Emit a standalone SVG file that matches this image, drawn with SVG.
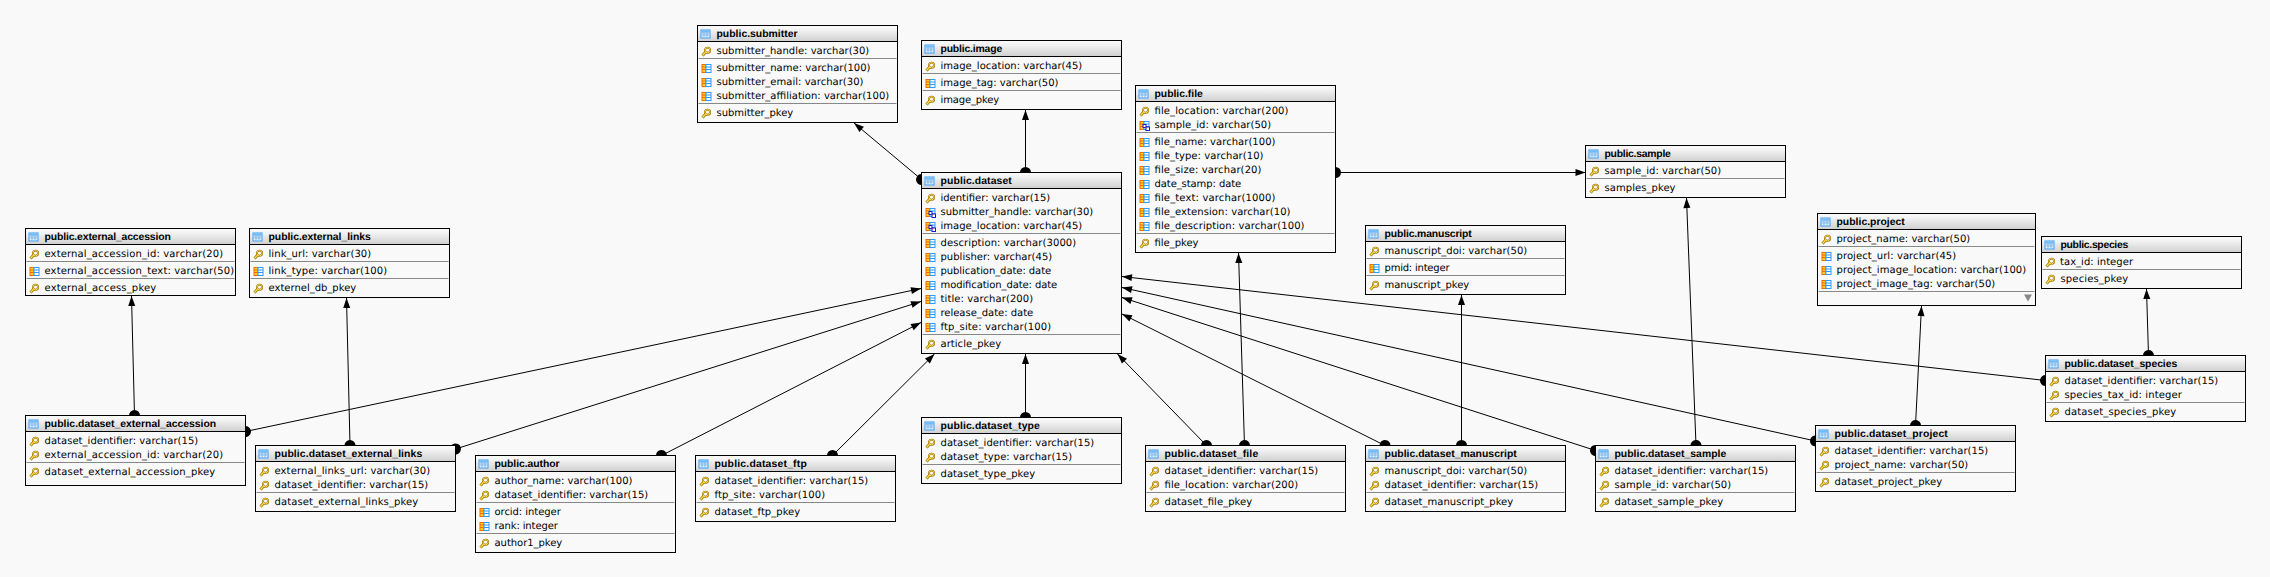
<svg xmlns="http://www.w3.org/2000/svg" width="2270" height="577" viewBox="0 0 2270 577">
<style>
text{font-family:"DejaVu Sans","Liberation Sans",sans-serif;font-size:10px;fill:#000;text-rendering:geometricPrecision}
text.t{font-family:"Liberation Sans","DejaVu Sans",sans-serif;font-weight:700;font-size:10.4px}
.b{fill:#f9f9f9;stroke:#000;stroke-width:1}
.h{fill:url(#hd)}
.hl{stroke:#000;stroke-width:1}
.d{stroke:#888;stroke-width:1}
.c line{stroke:#000;stroke-width:1;fill:none;marker-start:url(#arr);marker-end:url(#dot)}
</style>
<defs>
<linearGradient id="hd" x1="0" y1="0" x2="0" y2="1"><stop offset="0" stop-color="#fbfbfb"/><stop offset="0.3" stop-color="#f0f0f0"/><stop offset="1" stop-color="#cfcfcf"/></linearGradient>
<marker id="arr" markerUnits="userSpaceOnUse" markerWidth="12" markerHeight="10" refX="10.5" refY="5" orient="auto-start-reverse" viewBox="0 0 12 10"><path d="M0.5,1.5 L10.5,5 L0.5,8.5Z" fill="#000"/></marker>
<marker id="dot" markerUnits="userSpaceOnUse" markerWidth="12" markerHeight="12" refX="6" refY="6" orient="auto" viewBox="0 0 12 12"><circle cx="6" cy="6" r="5.5" fill="#000"/></marker>
<g id="ti"><rect x="0.5" y="0.5" width="9" height="8" fill="#e8f3ff" stroke="#3a9cf5"/><rect x="1" y="1" width="8" height="2" fill="#6fbaf8"/><path d="M1,3.5H9M1,5.5H9M3.5,3V8M6.5,3V8" stroke="#7fb6e6" stroke-width="1" fill="none"/></g>
<g id="k"><path d="M4.2,5 L1,8.6" stroke="#8a6a00" stroke-width="2.8" fill="none"/><circle cx="6" cy="3.2" r="2.6" fill="#f9f9f9" stroke="#8a6a00" stroke-width="1.9"/><path d="M4.2,5 L1,8.6" stroke="#ffd83a" stroke-width="1.5" fill="none"/><circle cx="6" cy="3.2" r="2.6" fill="none" stroke="#ffd83a" stroke-width="1"/></g>
<g id="f"><rect x="0.5" y="0.5" width="4" height="8" fill="#ffd21f" stroke="#f56a00"/><path d="M0.5,3H4.5M0.5,5.5H4.5" stroke="#f56a00"/><rect x="4.5" y="0.5" width="5" height="8" fill="#fff" stroke="#2a9bff"/><path d="M4.5,3H9.5M4.5,5.5H9.5" stroke="#2a9bff"/></g>
<g id="x"><use href="#f"/><rect x="3.5" y="3.5" width="3" height="3" fill="#fff" stroke="#1a1acc"/><rect x="6.5" y="6" width="3.5" height="3.5" fill="#fff" stroke="#1a1acc"/><path d="M5.5,6.5L7,7" stroke="#d00"/></g>
</defs>
<rect width="2270" height="577" fill="#f9f9f9"/>
<g id="connectors" class="c">
<line x1="854" y1="123" x2="921.5" y2="179.5"/>
<line x1="1025.5" y1="110" x2="1025.5" y2="172.5"/>
<line x1="1238.5" y1="253" x2="1244.5" y2="445.5"/>
<line x1="1585.5" y1="172.5" x2="1335.5" y2="172.5"/>
<line x1="1461.5" y1="295" x2="1461.5" y2="445.5"/>
<line x1="1686.5" y1="198" x2="1696" y2="445.5"/>
<line x1="1921.5" y1="306" x2="1915.5" y2="425.5"/>
<line x1="2146.5" y1="289" x2="2148.5" y2="355.5"/>
<line x1="1122" y1="276.5" x2="2045.5" y2="380.5"/>
<line x1="1122" y1="287.5" x2="1815.5" y2="441"/>
<line x1="1122" y1="297.5" x2="1595.5" y2="450.5"/>
<line x1="1122" y1="314" x2="1385" y2="445.5"/>
<line x1="1117.5" y1="354" x2="1206.5" y2="445.5"/>
<line x1="921" y1="288.5" x2="245.5" y2="431.5"/>
<line x1="921" y1="301.5" x2="455.5" y2="449"/>
<line x1="921" y1="322.5" x2="661.5" y2="455.5"/>
<line x1="934.5" y1="354" x2="832.5" y2="455.5"/>
<line x1="1025.5" y1="354" x2="1025.5" y2="417.5"/>
<line x1="131.5" y1="296" x2="134.5" y2="415.5"/>
<line x1="346.5" y1="298" x2="350" y2="445.5"/>
</g>
<g id="public.submitter" transform="translate(697.5,25.5)"><rect class="b" width="200" height="97"/><rect class="h" x="0.5" y="0.5" width="199" height="15.5"/><path class="hl" d="M0,16H200"/><use href="#ti" x="3" y="4"/><text class="t" x="19" y="11.5" textLength="81">public.submitter</text>
<use href="#k" x="4" y="21.5"/><text x="19" y="28.5" textLength="152.7">submitter_handle: varchar(30)</text><path class="d" d="M1,33H199"/>
<use href="#f" x="4" y="38.5"/><text x="19" y="45.5" textLength="154">submitter_name: varchar(100)</text><use href="#f" x="4" y="52.5"/><text x="19" y="59.5" textLength="147">submitter_email: varchar(30)</text><use href="#f" x="4" y="66.5"/><text x="19" y="73.5" textLength="172.7">submitter_affiliation: varchar(100)</text><path class="d" d="M1,78H199"/>
<use href="#k" x="4" y="83.5"/><text x="19" y="90.5" textLength="76.7">submitter_pkey</text></g>
<g id="public.image" transform="translate(921.5,40.5)"><rect class="b" width="200" height="69"/><rect class="h" x="0.5" y="0.5" width="199" height="15.5"/><path class="hl" d="M0,16H200"/><use href="#ti" x="3" y="4"/><text class="t" x="19" y="11.5" textLength="61.7">public.image</text>
<use href="#k" x="4" y="21.5"/><text x="19" y="28.5" textLength="141.7">image_location: varchar(45)</text><path class="d" d="M1,33H199"/>
<use href="#f" x="4" y="38.5"/><text x="19" y="45.5" textLength="118">image_tag: varchar(50)</text><path class="d" d="M1,50H199"/>
<use href="#k" x="4" y="55.5"/><text x="19" y="62.5" textLength="58.7">image_pkey</text></g>
<g id="public.dataset" transform="translate(921.5,172.5)"><rect class="b" width="200" height="181"/><rect class="h" x="0.5" y="0.5" width="199" height="15.5"/><path class="hl" d="M0,16H200"/><use href="#ti" x="3" y="4"/><text class="t" x="19" y="11.5" textLength="71.3">public.dataset</text>
<use href="#k" x="4" y="21.5"/><text x="19" y="28.5" textLength="109.7">identifier: varchar(15)</text><use href="#x" x="4" y="35.5"/><text x="19" y="42.5" textLength="152.7">submitter_handle: varchar(30)</text><use href="#x" x="4" y="49.5"/><text x="19" y="56.5" textLength="141.7">image_location: varchar(45)</text><path class="d" d="M1,61H199"/>
<use href="#f" x="4" y="66.5"/><text x="19" y="73.5" textLength="135.7">description: varchar(3000)</text><use href="#f" x="4" y="80.5"/><text x="19" y="87.5" textLength="111.7">publisher: varchar(45)</text><use href="#f" x="4" y="94.5"/><text x="19" y="101.5" textLength="110.7">publication_date: date</text><use href="#f" x="4" y="108.5"/><text x="19" y="115.5" textLength="116.7">modification_date: date</text><use href="#f" x="4" y="122.5"/><text x="19" y="129.5" textLength="92.7">title: varchar(200)</text><use href="#f" x="4" y="136.5"/><text x="19" y="143.5" textLength="92.7">release_date: date</text><use href="#f" x="4" y="150.5"/><text x="19" y="157.5" textLength="110.7">ftp_site: varchar(100)</text><path class="d" d="M1,162H199"/>
<use href="#k" x="4" y="167.5"/><text x="19" y="174.5" textLength="60.7">article_pkey</text></g>
<g id="public.file" transform="translate(1135.5,85.5)"><rect class="b" width="200" height="167"/><rect class="h" x="0.5" y="0.5" width="199" height="15.5"/><path class="hl" d="M0,16H200"/><use href="#ti" x="3" y="4"/><text class="t" x="19" y="11.5" textLength="48.3">public.file</text>
<use href="#k" x="4" y="21.5"/><text x="19" y="28.5" textLength="134">file_location: varchar(200)</text><use href="#x" x="4" y="35.5"/><text x="19" y="42.5" textLength="116.7">sample_id: varchar(50)</text><path class="d" d="M1,47H199"/>
<use href="#f" x="4" y="52.5"/><text x="19" y="59.5" textLength="121">file_name: varchar(100)</text><use href="#f" x="4" y="66.5"/><text x="19" y="73.5" textLength="109">file_type: varchar(10)</text><use href="#f" x="4" y="80.5"/><text x="19" y="87.5" textLength="107">file_size: varchar(20)</text><use href="#f" x="4" y="94.5"/><text x="19" y="101.5" textLength="86.7">date_stamp: date</text><use href="#f" x="4" y="108.5"/><text x="19" y="115.5" textLength="121">file_text: varchar(1000)</text><use href="#f" x="4" y="122.5"/><text x="19" y="129.5" textLength="136">file_extension: varchar(10)</text><use href="#f" x="4" y="136.5"/><text x="19" y="143.5" textLength="150">file_description: varchar(100)</text><path class="d" d="M1,148H199"/>
<use href="#k" x="4" y="153.5"/><text x="19" y="160.5" textLength="44">file_pkey</text></g>
<g id="public.manuscript" transform="translate(1365.5,225.5)"><rect class="b" width="200" height="69"/><rect class="h" x="0.5" y="0.5" width="199" height="15.5"/><path class="hl" d="M0,16H200"/><use href="#ti" x="3" y="4"/><text class="t" x="19" y="11.5" textLength="87.3">public.manuscript</text>
<use href="#k" x="4" y="21.5"/><text x="19" y="28.5" textLength="142.7">manuscript_doi: varchar(50)</text><path class="d" d="M1,33H199"/>
<use href="#f" x="4" y="38.5"/><text x="19" y="45.5" textLength="65">pmid: integer</text><path class="d" d="M1,50H199"/>
<use href="#k" x="4" y="55.5"/><text x="19" y="62.5" textLength="84.7">manuscript_pkey</text></g>
<g id="public.sample" transform="translate(1585.5,145.5)"><rect class="b" width="200" height="52"/><rect class="h" x="0.5" y="0.5" width="199" height="15.5"/><path class="hl" d="M0,16H200"/><use href="#ti" x="3" y="4"/><text class="t" x="19" y="11.5" textLength="66.3">public.sample</text>
<use href="#k" x="4" y="21.5"/><text x="19" y="28.5" textLength="116.7">sample_id: varchar(50)</text><path class="d" d="M1,33H199"/>
<use href="#k" x="4" y="38.5"/><text x="19" y="45.5" textLength="71">samples_pkey</text></g>
<g id="public.project" transform="translate(1817.5,213.5)"><rect class="b" width="218" height="92"/><rect class="h" x="0.5" y="0.5" width="217" height="15.5"/><path class="hl" d="M0,16H218"/><use href="#ti" x="3" y="4"/><text class="t" x="19" y="11.5" textLength="68.3">public.project</text>
<use href="#k" x="4" y="21.5"/><text x="19" y="28.5" textLength="133.7">project_name: varchar(50)</text><path class="d" d="M1,33H217"/>
<use href="#f" x="4" y="38.5"/><text x="19" y="45.5" textLength="119.7">project_url: varchar(45)</text><use href="#f" x="4" y="52.5"/><text x="19" y="59.5" textLength="189.7">project_image_location: varchar(100)</text><use href="#f" x="4" y="66.5"/><text x="19" y="73.5" textLength="158.7">project_image_tag: varchar(50)</text><path class="d" d="M1,78H217"/>
<path d="M206.5,81H214.5L210.5,88Z" fill="#888"/></g>
<g id="public.species" transform="translate(2041.5,236.5)"><rect class="b" width="200" height="52"/><rect class="h" x="0.5" y="0.5" width="199" height="15.5"/><path class="hl" d="M0,16H200"/><use href="#ti" x="3" y="4"/><text class="t" x="19" y="11.5" textLength="67.7">public.species</text>
<use href="#k" x="4" y="21.5"/><text x="18.5" y="28.5" textLength="73">tax_id: integer</text><path class="d" d="M1,33H199"/>
<use href="#k" x="4" y="38.5"/><text x="19" y="45.5" textLength="67.7">species_pkey</text></g>
<g id="public.dataset_species" transform="translate(2045.5,355.5)"><rect class="b" width="200" height="66"/><rect class="h" x="0.5" y="0.5" width="199" height="15.5"/><path class="hl" d="M0,16H200"/><use href="#ti" x="3" y="4"/><text class="t" x="19" y="11.5" textLength="112.7">public.dataset_species</text>
<use href="#k" x="4" y="21.5"/><text x="19" y="28.5" textLength="153.7">dataset_identifier: varchar(15)</text><use href="#k" x="4" y="35.5"/><text x="19" y="42.5" textLength="117.3">species_tax_id: integer</text><path class="d" d="M1,47H199"/>
<use href="#k" x="4" y="52.5"/><text x="19" y="59.5" textLength="111.7">dataset_species_pkey</text></g>
<g id="public.dataset_project" transform="translate(1815.5,425.5)"><rect class="b" width="200" height="66"/><rect class="h" x="0.5" y="0.5" width="199" height="15.5"/><path class="hl" d="M0,16H200"/><use href="#ti" x="3" y="4"/><text class="t" x="19" y="11.5" textLength="113.3">public.dataset_project</text>
<use href="#k" x="4" y="21.5"/><text x="19" y="28.5" textLength="153.7">dataset_identifier: varchar(15)</text><use href="#k" x="4" y="35.5"/><text x="19" y="42.5" textLength="133.7">project_name: varchar(50)</text><path class="d" d="M1,47H199"/>
<use href="#k" x="4" y="52.5"/><text x="19" y="59.5" textLength="107.7">dataset_project_pkey</text></g>
<g id="public.external_accession" transform="translate(25.5,228.5)"><rect class="b" width="210" height="67"/><rect class="h" x="0.5" y="0.5" width="209" height="15.5"/><path class="hl" d="M0,16H210"/><use href="#ti" x="3" y="4"/><text class="t" x="19" y="11.5" textLength="126.3">public.external_accession</text>
<use href="#k" x="4" y="21.5"/><text x="19" y="28.5" textLength="178.7">external_accession_id: varchar(20)</text><path class="d" d="M1,33H209"/>
<use href="#f" x="4" y="38.5"/><text x="19" y="45.5" textLength="189.7">external_accession_text: varchar(50)</text><path class="d" d="M1,50H209"/>
<use href="#k" x="4" y="55.5"/><text x="19" y="62.5" textLength="111.7">external_access_pkey</text></g>
<g id="public.external_links" transform="translate(249.5,228.5)"><rect class="b" width="200" height="69"/><rect class="h" x="0.5" y="0.5" width="199" height="15.5"/><path class="hl" d="M0,16H200"/><use href="#ti" x="3" y="4"/><text class="t" x="19" y="11.5" textLength="102.3">public.external_links</text>
<use href="#k" x="4" y="21.5"/><text x="19" y="28.5" textLength="102.7">link_url: varchar(30)</text><path class="d" d="M1,33H199"/>
<use href="#f" x="4" y="38.5"/><text x="19" y="45.5" textLength="118.7">link_type: varchar(100)</text><path class="d" d="M1,50H199"/>
<use href="#k" x="4" y="55.5"/><text x="19" y="62.5" textLength="87.7">externel_db_pkey</text></g>
<g id="public.dataset_external_accession" transform="translate(25.5,415.5)"><rect class="b" width="220" height="70"/><rect class="h" x="0.5" y="0.5" width="219" height="15.5"/><path class="hl" d="M0,16H220"/><use href="#ti" x="3" y="4"/><text class="t" x="19" y="11.5" textLength="171.7">public.dataset_external_accession</text>
<use href="#k" x="4" y="21.5"/><text x="19" y="28.5" textLength="153.7">dataset_identifier: varchar(15)</text><use href="#k" x="4" y="35.5"/><text x="19" y="42.5" textLength="178.7">external_accession_id: varchar(20)</text><path class="d" d="M1,47H219"/>
<use href="#k" x="4" y="52.5"/><text x="19" y="59.5" textLength="170.7">dataset_external_accession_pkey</text></g>
<g id="public.dataset_external_links" transform="translate(255.5,445.5)"><rect class="b" width="200" height="66"/><rect class="h" x="0.5" y="0.5" width="199" height="15.5"/><path class="hl" d="M0,16H200"/><use href="#ti" x="3" y="4"/><text class="t" x="19" y="11.5" textLength="147.7">public.dataset_external_links</text>
<use href="#k" x="4" y="21.5"/><text x="19" y="28.5" textLength="155.7">external_links_url: varchar(30)</text><use href="#k" x="4" y="35.5"/><text x="19" y="42.5" textLength="153.7">dataset_identifier: varchar(15)</text><path class="d" d="M1,47H199"/>
<use href="#k" x="4" y="52.5"/><text x="19" y="59.5" textLength="143.7">dataset_external_links_pkey</text></g>
<g id="public.author" transform="translate(475.5,455.5)"><rect class="b" width="200" height="97"/><rect class="h" x="0.5" y="0.5" width="199" height="15.5"/><path class="hl" d="M0,16H200"/><use href="#ti" x="3" y="4"/><text class="t" x="19" y="11.5" textLength="65">public.author</text>
<use href="#k" x="4" y="21.5"/><text x="19" y="28.5" textLength="138">author_name: varchar(100)</text><use href="#k" x="4" y="35.5"/><text x="19" y="42.5" textLength="153.7">dataset_identifier: varchar(15)</text><path class="d" d="M1,47H199"/>
<use href="#f" x="4" y="52.5"/><text x="19" y="59.5" textLength="66.3">orcid: integer</text><use href="#f" x="4" y="66.5"/><text x="19" y="73.5" textLength="63.3">rank: integer</text><path class="d" d="M1,78H199"/>
<use href="#k" x="4" y="83.5"/><text x="19" y="90.5" textLength="67.7">author1_pkey</text></g>
<g id="public.dataset_ftp" transform="translate(695.5,455.5)"><rect class="b" width="200" height="66"/><rect class="h" x="0.5" y="0.5" width="199" height="15.5"/><path class="hl" d="M0,16H200"/><use href="#ti" x="3" y="4"/><text class="t" x="19" y="11.5" textLength="92.3">public.dataset_ftp</text>
<use href="#k" x="4" y="21.5"/><text x="19" y="28.5" textLength="153.7">dataset_identifier: varchar(15)</text><use href="#k" x="4" y="35.5"/><text x="19" y="42.5" textLength="110.7">ftp_site: varchar(100)</text><path class="d" d="M1,47H199"/>
<use href="#k" x="4" y="52.5"/><text x="19" y="59.5" textLength="85.7">dataset_ftp_pkey</text></g>
<g id="public.dataset_type" transform="translate(921.5,417.5)"><rect class="b" width="200" height="66"/><rect class="h" x="0.5" y="0.5" width="199" height="15.5"/><path class="hl" d="M0,16H200"/><use href="#ti" x="3" y="4"/><text class="t" x="19" y="11.5" textLength="99.3">public.dataset_type</text>
<use href="#k" x="4" y="21.5"/><text x="19" y="28.5" textLength="153.7">dataset_identifier: varchar(15)</text><use href="#k" x="4" y="35.5"/><text x="19" y="42.5" textLength="131.7">dataset_type: varchar(15)</text><path class="d" d="M1,47H199"/>
<use href="#k" x="4" y="52.5"/><text x="19" y="59.5" textLength="94.7">dataset_type_pkey</text></g>
<g id="public.dataset_file" transform="translate(1145.5,445.5)"><rect class="b" width="200" height="66"/><rect class="h" x="0.5" y="0.5" width="199" height="15.5"/><path class="hl" d="M0,16H200"/><use href="#ti" x="3" y="4"/><text class="t" x="19" y="11.5" textLength="93.7">public.dataset_file</text>
<use href="#k" x="4" y="21.5"/><text x="19" y="28.5" textLength="153.7">dataset_identifier: varchar(15)</text><use href="#k" x="4" y="35.5"/><text x="19" y="42.5" textLength="133.7">file_location: varchar(200)</text><path class="d" d="M1,47H199"/>
<use href="#k" x="4" y="52.5"/><text x="19" y="59.5" textLength="87.7">dataset_file_pkey</text></g>
<g id="public.dataset_manuscript" transform="translate(1365.5,445.5)"><rect class="b" width="200" height="66"/><rect class="h" x="0.5" y="0.5" width="199" height="15.5"/><path class="hl" d="M0,16H200"/><use href="#ti" x="3" y="4"/><text class="t" x="19" y="11.5" textLength="132.3">public.dataset_manuscript</text>
<use href="#k" x="4" y="21.5"/><text x="19" y="28.5" textLength="142.7">manuscript_doi: varchar(50)</text><use href="#k" x="4" y="35.5"/><text x="19" y="42.5" textLength="153.7">dataset_identifier: varchar(15)</text><path class="d" d="M1,47H199"/>
<use href="#k" x="4" y="52.5"/><text x="19" y="59.5" textLength="128.7">dataset_manuscript_pkey</text></g>
<g id="public.dataset_sample" transform="translate(1595.5,445.5)"><rect class="b" width="200" height="66"/><rect class="h" x="0.5" y="0.5" width="199" height="15.5"/><path class="hl" d="M0,16H200"/><use href="#ti" x="3" y="4"/><text class="t" x="19" y="11.5" textLength="111.7">public.dataset_sample</text>
<use href="#k" x="4" y="21.5"/><text x="19" y="28.5" textLength="153.7">dataset_identifier: varchar(15)</text><use href="#k" x="4" y="35.5"/><text x="19" y="42.5" textLength="116.7">sample_id: varchar(50)</text><path class="d" d="M1,47H199"/>
<use href="#k" x="4" y="52.5"/><text x="19" y="59.5" textLength="108.7">dataset_sample_pkey</text></g>
</svg>
